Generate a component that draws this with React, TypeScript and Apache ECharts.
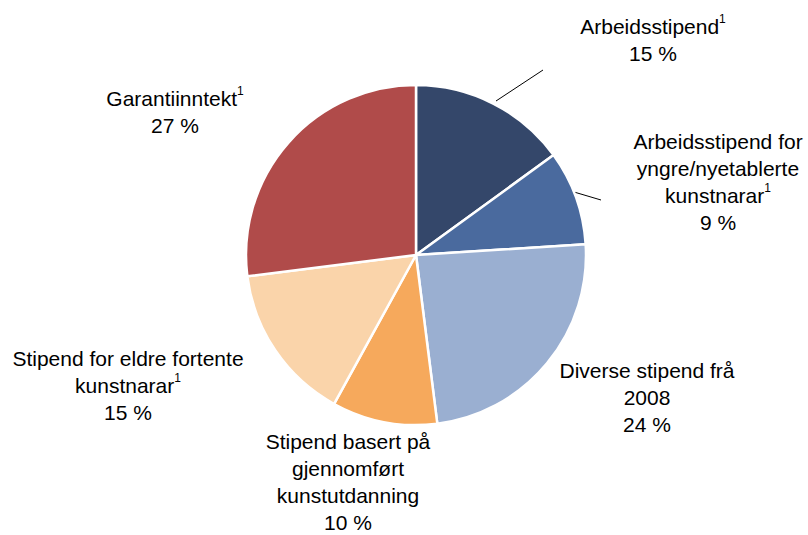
import React, { useEffect, useRef } from "react";
import * as echarts from "echarts";

const categories = [
  "Arbeidsstipend",
  "Arbeidsstipend for\nyngre/nyetablerte\nkunstnarar",
  "Diverse stipend frå\n2008",
  "Stipend basert på\ngjennomført\nkunstutdanning",
  "Stipend for eldre fortente\nkunstnarar",
  "Garantiinntekt",
];
const footnote = [true, true, false, false, true, true];
const values = [15, 9, 24, 10, 15, 27];
const colors = ["#34476a", "#4a6a9e", "#9aafd1", "#f6a95c", "#fad4aa", "#b04b4a"];

// label layout (centers) and leader lines
const labelPos: [number, number][] = [
  [653, 40],
  [718, 182],
  [647, 397],
  [348, 482],
  [128, 385],
  [175, 112],
];
const leaderLines: ([number, number][] | null)[] = [
  [[496, 101], [543, 70]],
  [[574, 192], [601, 200]],
  null,
  null,
  null,
  null,
];

export default function App() {
  const ref = useRef<HTMLDivElement>(null);
  useEffect(() => {
    if (!ref.current) return;
    const chart = echarts.init(ref.current, undefined, { renderer: "svg" });
    const data = categories.map((name, i) => ({
      name,
      value: values[i],
      itemStyle: { color: colors[i] },
      labelLine: { show: !!leaderLines[i] },
    }));
    chart.setOption({
      animation: false,
      backgroundColor: "#ffffff",
      series: [
        {
          type: "pie",
          center: [416, 255],
          radius: 170,
          startAngle: 90,
          clockwise: true,
          data,
          itemStyle: { borderColor: "#ffffff", borderWidth: 2.5 },
          label: {
            show: true,
            position: "outside",
            color: "#000000",
            fontFamily: "Liberation Sans, Arial, sans-serif",
            fontSize: 21,
            lineHeight: 27,
            align: "center",
            formatter: (p: any) => {
              const i = p.dataIndex;
              return p.name + (footnote[i] ? "{s|1}" : "") + "\n" + p.value + " %";
            },
            rich: {
              s: {
                fontSize: 12,
                color: "#000000",
                fontFamily: "Liberation Sans, Arial, sans-serif",
                verticalAlign: "top",
                lineHeight: 27,
                padding: [0, 0, 10, 0],
              },
            },
          },
          labelLine: {
            show: true,
            lineStyle: { color: "#000000", width: 1 },
            length: 10,
            length2: 0,
          },
          labelLayout: (params: any) => {
            const i = params.dataIndex;
            const res: any = {
              x: labelPos[i][0],
              y: labelPos[i][1],
              align: "center",
              verticalAlign: "middle",
            };
            if (leaderLines[i]) res.labelLinePoints = leaderLines[i];
            return res;
          },
        },
      ],
    });
    return () => chart.dispose();
  }, []);
  return (
    <div
      ref={ref}
      style={{ position: "fixed", left: 0, top: 0, width: 808, height: 535 }}
    />
  );
}
